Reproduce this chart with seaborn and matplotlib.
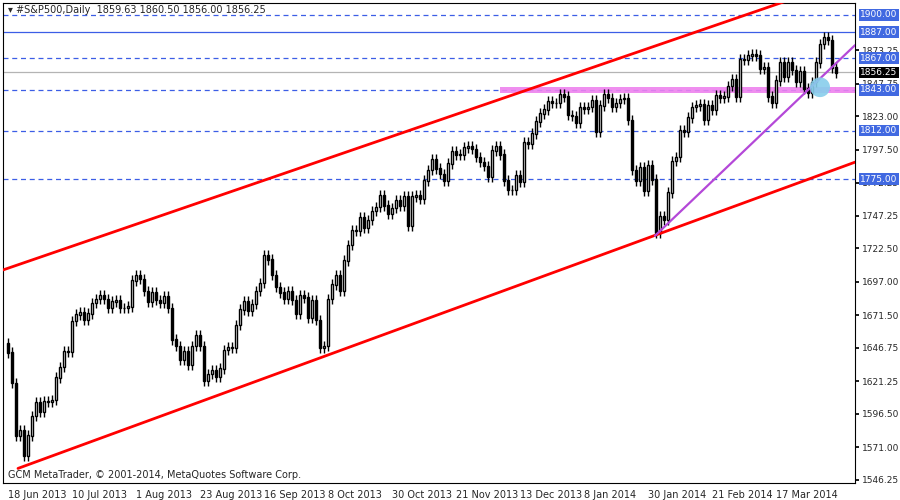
"""S&P500 daily candles with channel, trendline and support levels (MetaTrader look)."""
import numpy as np
import pandas as pd
import matplotlib
matplotlib.use('Agg')
import matplotlib.pyplot as plt
from matplotlib.patches import Ellipse
import seaborn as sns

# daily closes (CFD, includes holiday sessions), 18 Jun 2013 .. 7 Apr 2014
closes = [1643, 1620, 1580, 1584, 1565, 1580, 1595, 1605, 1598, 1606, 1606, 1607, 1624, 1632,
          1644, 1644, 1667, 1672, 1674, 1668, 1673, 1681, 1684, 1687, 1684, 1677, 1682, 1683,
          1677, 1677, 1678, 1698, 1702, 1699, 1690, 1682, 1689, 1683, 1681, 1686, 1677, 1653,
          1648, 1638, 1644, 1634, 1648, 1656, 1648, 1622, 1627, 1630, 1625, 1631, 1645, 1647,
          1647, 1664, 1676, 1682, 1675, 1680, 1690, 1696, 1717, 1714, 1702, 1693, 1689, 1684,
          1690, 1683, 1673, 1687, 1685, 1670, 1683, 1668, 1647, 1648, 1684, 1695, 1702, 1690,
          1713, 1725, 1736, 1736, 1746, 1738, 1744, 1751, 1754, 1763, 1755, 1749, 1753, 1759,
          1755, 1762, 1740, 1762, 1763, 1760, 1774, 1782, 1790, 1783, 1779, 1774, 1787, 1796,
          1794, 1794, 1799, 1800, 1798, 1792, 1788, 1785, 1777, 1797, 1800, 1794, 1774, 1767,
          1767, 1778, 1773, 1803, 1802, 1810, 1819, 1825, 1828, 1834, 1833, 1833, 1840, 1838,
          1824, 1823, 1818, 1830, 1829, 1830, 1835, 1811, 1831, 1840, 1837, 1830, 1833, 1836,
          1837, 1820, 1782, 1774, 1784, 1766, 1786, 1775, 1734, 1747, 1744, 1765, 1789, 1792,
          1812, 1811, 1822, 1830, 1831, 1832, 1820, 1831, 1828, 1839, 1837, 1838, 1846, 1851,
          1838, 1866, 1866, 1869, 1870, 1869, 1859, 1860, 1838, 1833, 1850, 1864, 1853, 1864,
          1858, 1849, 1857, 1844, 1841, 1849, 1864, 1878, 1883, 1881, 1860, 1856.25]
first_open = 1650
date_labels = ['18 Jun 2013', '10 Jul 2013', '1 Aug 2013', '23 Aug 2013', '16 Sep 2013',
               '8 Oct 2013', '30 Oct 2013', '21 Nov 2013', '13 Dec 2013', '8 Jan 2014',
               '30 Jan 2014', '21 Feb 2014', '17 Mar 2014']
price_ticks = [1873.25, 1847.75, 1823.00, 1797.50, 1772.25, 1747.25, 1722.50, 1697.00,
               1671.50, 1646.75, 1621.25, 1596.50, 1571.00, 1546.25]
dashed_levels = [1900.00, 1867.00, 1843.00, 1812.00, 1775.00]
solid_level = 1887.00
last_price = 1856.25
# channel and trend lines: (bar index, price) endpoints
upper_channel = [(-1.25, 1706), (193, 1909)]
lower_channel = [(2.5, 1555), (211.75, 1788)]
trend_line = [(161.75, 1732), (211.75, 1877)]

df = pd.DataFrame({'close': closes})
df['open'] = [first_open] + closes[:-1]
df['bar'] = np.arange(len(df))
WICK = 4.0

sns.set_theme(style='white')
plt.rcParams['font.family'] = ['DejaVu Sans']
fig = plt.figure(figsize=(9, 5), dpi=100)
ax = fig.add_axes([3 / 900, 17 / 500, 852 / 900, 480 / 500])
ax.set_xlim(-1.25, 211.75)
ax.set_ylim(1543.9, 1909.1)

lo = df[['open', 'close']].min(axis=1)
hi = df[['open', 'close']].max(axis=1)
ax.vlines(df['bar'], lo - WICK, hi + WICK, color='black', lw=1, zorder=3)
up = df['close'] >= df['open']
ax.bar(df['bar'][up], (hi - lo)[up] + 0.4, bottom=lo[up] - 0.2, width=0.6, color='white',
       edgecolor='black', lw=1, zorder=4)
ax.bar(df['bar'][~up], (hi - lo)[~up] + 0.4, bottom=lo[~up] - 0.2, width=0.6, color='black',
       edgecolor='black', lw=1, zorder=4)

for lv in dashed_levels:
    ax.axhline(lv, color='#3c5ee6', ls=(0, (4, 3)), lw=0.9, zorder=1)
ax.axhline(solid_level, color='#3c5ee6', lw=0.9, zorder=1)
ax.axhline(last_price, color='#b4b4b4', lw=0.9, zorder=1)
ax.fill_between([123, 211.75], 1840.8, 1845.2, color='#ee82ee', alpha=0.9, lw=0, zorder=2)

for line, col in [(upper_channel, 'red'), (lower_channel, 'red'), (trend_line, '#b448d8')]:
    (x0, y0), (x1, y1) = line
    slope = (y1 - y0) / (x1 - x0)
    xs = np.array([x0, 211.75])
    ax.plot(xs, y0 + slope * (xs - x0), color=col, lw=2 if col == 'red' else 1.6, zorder=5)
ax.add_patch(Ellipse((203, 1845), 5, 15, color='#87ceeb', alpha=0.9, zorder=6, lw=0))

ax.set_xticks(np.arange(len(date_labels)) * 16)
ax.set_xticklabels(date_labels, fontsize=7, ha='left')
ax.yaxis.tick_right()
ax.set_yticks(price_ticks)
ax.set_yticklabels([f'{p:.2f}' for p in price_ticks], fontsize=6.5)
ax.tick_params(axis='both', length=3, color='black', pad=2, direction='out')
for s in ax.spines.values():
    s.set_color('black')
    s.set_linewidth(0.8)

for lv in dashed_levels + [solid_level]:
    ax.text(1.006, lv, f'{lv:.2f}', transform=ax.get_yaxis_transform(), fontsize=6.5,
            color='white', va='center', ha='left', zorder=10,
            bbox=dict(boxstyle='square,pad=0.15', fc='#4169e1', ec='none'))
ax.text(1.006, last_price, f'{last_price:.2f}', transform=ax.get_yaxis_transform(), fontsize=6.5,
        color='white', va='center', ha='left', zorder=10,
        bbox=dict(boxstyle='square,pad=0.15', fc='black', ec='none'))

ax.text(0.006, 0.995, '\u25be #S&P500,Daily  1859.63 1860.50 1856.00 1856.25', transform=ax.transAxes,
        fontsize=7, va='top', ha='left')
ax.text(0.006, 0.006, 'GCM MetaTrader, \u00a9 2001-2014, MetaQuotes Software Corp.',
        transform=ax.transAxes, fontsize=7, va='bottom', ha='left')

fig.savefig('out.png', dpi=100, facecolor='white')
